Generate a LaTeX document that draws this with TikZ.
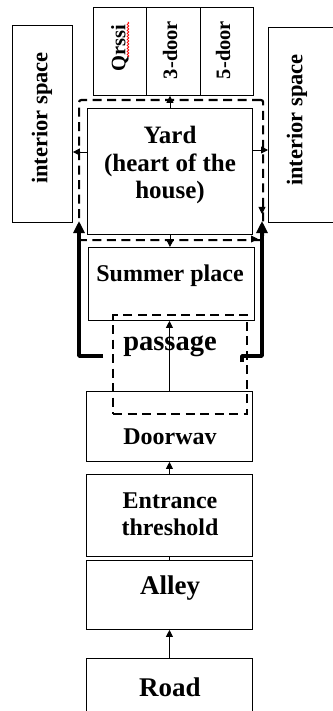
\documentclass[tikz,border=0pt]{standalone}
\usepackage{fontspec}
\setmainfont{Liberation Serif}
\usetikzlibrary{arrows.meta,decorations.pathmorphing}
\begin{document}
\begin{tikzpicture}[x=1pt,y=-1pt,
  box/.style={draw, line width=0.9pt, inner sep=0pt, anchor=north west},
  zone/.style={draw, line width=2.2pt, dash pattern=on 9pt off 5.5pt, inner sep=0pt, anchor=north west},
  lbl/.style={inner sep=0pt, align=center},
  arr/.style={line width=0.9pt, -{Triangle[length=7pt,width=7pt]}},
  tip/.style={line width=0.9pt, -{Triangle[length=7pt,width=7pt]}},
  thickarr/.style={line width=3.5pt, line join=round, -{Triangle[length=12pt,width=11pt]}},
  fA/.style={font=\bfseries\fontsize{22.5}{24}\selectfont},
  fB/.style={font=\bfseries\fontsize{20.5}{22}\selectfont},
  fC/.style={font=\bfseries\fontsize{25}{27.5}\selectfont},
  fD/.style={font=\bfseries\fontsize{28.5}{30}\selectfont},
  fE/.style={font=\bfseries\fontsize{24}{27}\selectfont},
  fF/.style={font=\bfseries\fontsize{27}{29}\selectfont}
]
\fill[white] (0,0) rectangle (332,711);
\useasboundingbox (0,0) rectangle (332,711);

% side rooms
\node[box, minimum width=60, minimum height=197] (leftint) at (12,25) {};
\node[lbl, fA, rotate=90] (leftintt) at (42,118) {interior space};
\node[box, minimum width=66, minimum height=195] (rightint) at (268,27) {};
\node[lbl, fA, rotate=90] (rightintt) at (297,120) {interior space};

% top boxes
\node[box, minimum width=53, minimum height=88] (qrssi) at (93,7) {};
\node[box, minimum width=54, minimum height=88] (door3) at (146,7) {};
\node[box, minimum width=53, minimum height=88] (door5) at (200,7) {};
\node[lbl, fB, rotate=90] (qrssit) at (120,48) {Qrssi};
\node[lbl, fB, rotate=90] (door3t) at (170,50) {3-door};
\node[lbl, fB, rotate=90] (door5t) at (223,50) {5-door};
\draw[red, line width=0.8pt, decorate, decoration={snake, amplitude=0.8pt, segment length=3pt}] (128,22) -- (128,57);

% yard
\node[zone, rounded corners=2pt, minimum width=184, minimum height=140] (yardzone) at (78,99) {};
\node[box, minimum width=165, minimum height=126] (yard) at (87,108) {};
\node[lbl, fC] (yardt) at (170,165) {Yard\\(heart of the\\house)};

% summer place
\node[box, minimum width=166, minimum height=73] (summer) at (88,247) {};
\node[lbl, fE] (summert) at (170,276) {Summer place};

% passage
\node[zone, minimum width=134, minimum height=99] (passagezone) at (112,314) {};

% lower chain
\node[box, minimum width=166, minimum height=70] (door) at (86,391) {};
\node[lbl, fE] (doort) at (170,437) {Doorwav};
\node[box, minimum width=166, minimum height=82] (entr) at (86,474) {};
\node[lbl, fE] (entrt) at (170,514) {Entrance\\threshold};
\node[box, minimum width=166, minimum height=69] (alley) at (86,560) {};
\node[lbl, fF] (alleyt) at (170,588) {Alley};
\node[box, minimum width=166, minimum height=60] (road) at (86,658) {};
\node[lbl, fF] (roadt) at (170,687) {Road};

% connectors
\draw[arr] (yard.north) -- (yard.north |- door3.south);
\coordinate (yl) at (87,152);
\coordinate (yr) at (252,150);
\draw[arr] (yl) -- (yl -| leftint.east);
\draw[arr] (yr) -- (yr -| rightint.west);
\draw[arr] (yard.south) -- (yard.south |- summer.north);
\draw[arr] (door.north) -- (door.north |- summer.south);
\draw[arr] (entr.north) -- (entr.north |- door.south);
\draw[line width=0.9pt] (alley.north) -- (alley.north |- entr.south);
\draw[arr] (road.north) -- (road.north |- alley.south);

\node[lbl, fD] (passaget) at (170,346) {passage};

% arrowheads on the dashed loop
\coordinate (rd) at (262,214);
\coordinate (bd) at (258,239);
\draw[tip] ([yshift=7pt]rd) -- (rd);
\draw[tip] ([xshift=-7pt]bd) -- (bd);

% thick arrows
\coordinate (tlb) at (103,356);
\coordinate (tl) at (79,221);
\coordinate (trb) at (242,362);
\coordinate (tr) at (262,221);
\draw[thickarr] (tlb) -- (tlb -| tl) -- (tl);
\draw[thickarr] (trb) -- (242,356) -- (tr |- 0,356) -- (tr);
\end{tikzpicture}
\end{document}
